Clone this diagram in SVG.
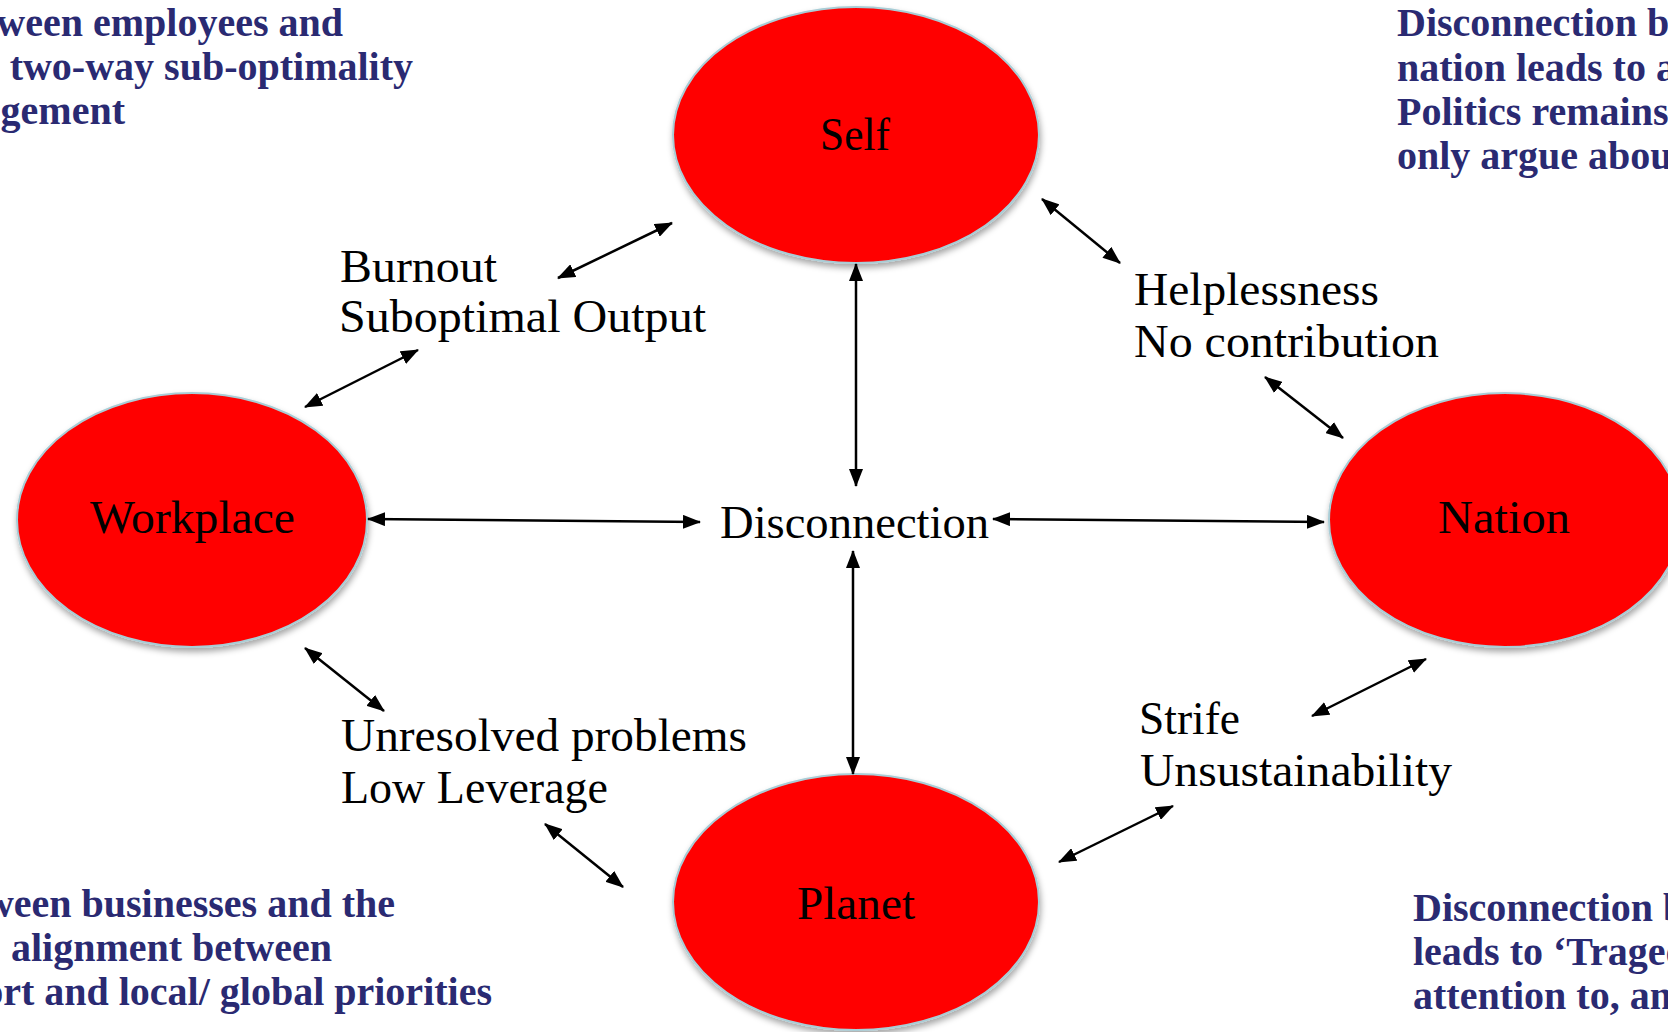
<svg xmlns="http://www.w3.org/2000/svg" width="1668" height="1032" viewBox="0 0 1668 1032">
<style>
.node ellipse{fill:#FF0000;stroke:#A9CDD6;stroke-width:2;filter:url(#shadow)}
.lbl{font-family:"Liberation Serif",serif;font-size:46px;fill:#000}
.note{font-family:"Liberation Serif",serif;font-weight:bold;font-size:40px;fill:#2A2A72}
.conn line{stroke:#000;stroke-width:2.5;marker-start:url(#ah);marker-end:url(#ah)}
</style>
<defs>
<filter id="shadow" x="-10%" y="-10%" width="120%" height="125%">
<feDropShadow dx="1" dy="4" stdDeviation="3" flood-color="#000" flood-opacity="0.35"/>
</filter>
<marker id="ah" viewBox="0 0 18 14" refX="17" refY="7" markerWidth="18" markerHeight="14" markerUnits="userSpaceOnUse" orient="auto-start-reverse">
<path d="M0,0 L18,7 L0,14 z" fill="#000"/>
</marker>
</defs>
<rect width="1668" height="1032" fill="#fff"/>

<g id="notes">
<text class="note" x="343" y="36" text-anchor="end">ween employees and</text>
<text class="note" x="413" y="80" text-anchor="end">two-way sub-optimality</text>
<text class="note" x="125" y="124" text-anchor="end">gement</text>
<text class="note" x="1397" y="36">Disconnection b</text>
<text class="note" x="1397" y="81">nation leads to a</text>
<text class="note" x="1397" y="125">Politics remains</text>
<text class="note" x="1397" y="169">only argue abou</text>
<text class="note" x="395" y="917" text-anchor="end">ween businesses and the</text>
<text class="note" x="332" y="961" text-anchor="end">alignment between</text>
<text class="note" x="492" y="1005" text-anchor="end">ort and local/ global priorities</text>
<text class="note" x="1413" y="921">Disconnection b</text>
<text class="note" x="1413" y="965">leads to ‘Traged</text>
<text class="note" x="1413" y="1009">attention to, an</text>
</g>

<g id="node-self" class="node">
<ellipse cx="856" cy="135" rx="183" ry="128"/>
<text class="lbl" x="820" y="150" textLength="70" lengthAdjust="spacingAndGlyphs">Self</text>
</g>
<g id="node-workplace" class="node">
<ellipse cx="192" cy="520" rx="175" ry="127"/>
<text class="lbl" x="90" y="533" textLength="205" lengthAdjust="spacingAndGlyphs">Workplace</text>
</g>
<g id="node-nation" class="node">
<ellipse cx="1505" cy="520" rx="176" ry="127"/>
<text class="lbl" x="1438" y="533" textLength="132" lengthAdjust="spacingAndGlyphs">Nation</text>
</g>
<g id="node-planet" class="node">
<ellipse cx="856" cy="902" rx="183" ry="128"/>
<text class="lbl" x="797" y="919" textLength="118" lengthAdjust="spacingAndGlyphs">Planet</text>
</g>
<g id="node-disconnection">
<text class="lbl" x="720" y="538" textLength="269" lengthAdjust="spacingAndGlyphs">Disconnection</text>
</g>

<g id="labels">
<text class="lbl" x="340" y="282" textLength="157" lengthAdjust="spacingAndGlyphs">Burnout</text>
<text class="lbl" x="339" y="332" textLength="367" lengthAdjust="spacingAndGlyphs">Suboptimal Output</text>
<text class="lbl" x="1134" y="305" textLength="245" lengthAdjust="spacingAndGlyphs">Helplessness</text>
<text class="lbl" x="1134" y="357" textLength="305" lengthAdjust="spacingAndGlyphs">No contribution</text>
<text class="lbl" x="341" y="751" textLength="406" lengthAdjust="spacingAndGlyphs">Unresolved problems</text>
<text class="lbl" x="341" y="803" textLength="267" lengthAdjust="spacingAndGlyphs">Low Leverage</text>
<text class="lbl" x="1139" y="734" textLength="101" lengthAdjust="spacingAndGlyphs">Strife</text>
<text class="lbl" x="1140" y="786" textLength="312" lengthAdjust="spacingAndGlyphs">Unsustainability</text>
</g>

<g id="connectors" class="conn">
<line x1="558" y1="278" x2="672" y2="223"/>
<line x1="305" y1="407" x2="418" y2="350"/>
<line x1="1042" y1="199" x2="1120" y2="263"/>
<line x1="1265" y1="377" x2="1343" y2="438"/>
<line x1="305" y1="648" x2="384" y2="711"/>
<line x1="545" y1="824" x2="623" y2="887"/>
<line x1="1312" y1="716" x2="1426" y2="659"/>
<line x1="1059" y1="862" x2="1173" y2="806"/>
<line x1="856" y1="264" x2="856" y2="486"/>
<line x1="853" y1="551" x2="853" y2="774"/>
<line x1="368" y1="519" x2="700" y2="522"/>
<line x1="993" y1="519" x2="1324" y2="522"/>
</g>
</svg>
